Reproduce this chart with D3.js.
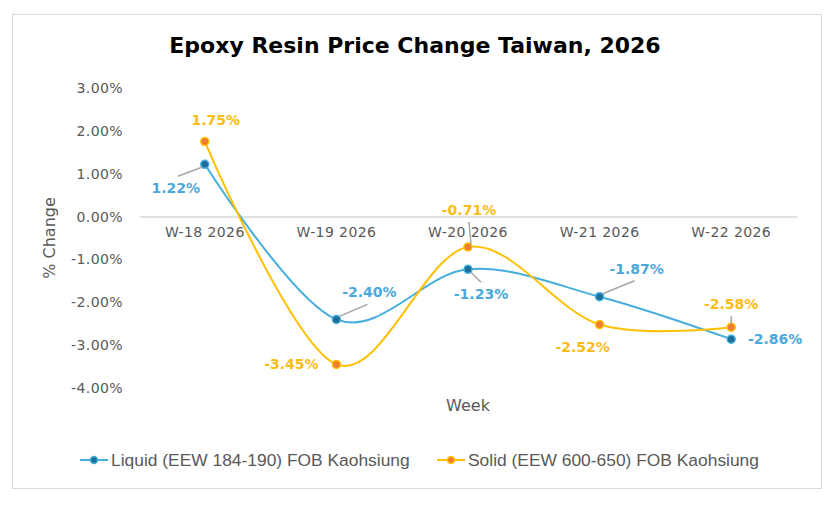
<!DOCTYPE html>
<html>
<head>
<meta charset="utf-8">
<script src="https://cdn.jsdelivr.net/npm/d3@7"></script>
<style>
  body { margin: 0; background: #fff; }
  text { font-family: "DejaVu Sans", Arial, sans-serif; }
</style>
</head>
<body>
<div id="viz"></div>
<script>
// chart data
var weeks = ["W-18 2026", "W-19 2026", "W-20 2026", "W-21 2026", "W-22 2026"];
var liquid = [1.22, -2.40, -1.23, -1.87, -2.86];
var solid = [1.75, -3.45, -0.71, -2.52, -2.58];
var yTicks = [3, 2, 1, 0, -1, -2, -3, -4];
var seriesNames = ["Liquid (EEW 184-190) FOB Kaohsiung", "Solid (EEW 600-650) FOB Kaohsiung"];

// label placement (dx, dy from point, leader line?)
var liquidLabelOff = [[-29, 24, true], [33, -27, true], [13, 25, true], [37, -28, true], [44, 0, false]];
var solidLabelOff = [[11, -21, false], [-45, 0, false], [1, -37, true], [-17, 23, false], [0, -23, true]];

var W = 832, H = 506;
var margin = {top: 88, left: 139, right: 35, bottom: 118};

// plain hyphen for negatives, like the source
var pct = function(d) { return d3.format(".2f")(d).replace("\u2212", "-") + "%"; };

var svg = d3.select("#viz").append("svg")
  .attr("width", W).attr("height", H);

// outer frame
svg.append("rect")
  .attr("x", 12.5).attr("y", 14.5).attr("width", 809).attr("height", 474)
  .attr("fill", "#fff").attr("stroke", "#d9d9d9");

var x = d3.scaleBand().domain(weeks).range([margin.left, W - margin.right]);
var y = d3.scaleLinear().domain([-4, 3]).range([388, 88]);

// title
svg.append("text")
  .attr("x", 415).attr("y", 53)
  .attr("text-anchor", "middle")
  .style("font-size", "22px").style("font-weight", "bold").attr("fill", "#000")
  .text("Epoxy Resin Price Change Taiwan, 2026");

// y axis labels
var yAxis = svg.append("g")
  .attr("transform", "translate(" + (margin.left - 16) + ",0)")
  .call(d3.axisLeft(y).tickValues(yTicks).tickSize(0).tickPadding(0).tickFormat(pct));
yAxis.select(".domain").remove();
yAxis.selectAll("text").style("font-size", "14px").style("letter-spacing", "0.4px").attr("fill", "#595959")
  .style("font-family", "'DejaVu Sans', Arial, sans-serif");

// zero line + category labels
var xAxis = svg.append("g")
  .attr("transform", "translate(0," + y(0) + ")")
  .call(d3.axisBottom(x).tickSize(0).tickPadding(10));
xAxis.select(".domain").attr("stroke", "#d9d9d9").attr("stroke-width", 1.5);
xAxis.selectAll("text").style("font-size", "14px").style("letter-spacing", "0.4px").attr("fill", "#595959")
  .style("font-family", "'DejaVu Sans', Arial, sans-serif");

// axis titles
svg.append("text")
  .attr("transform", "translate(55," + y(-0.5) + ") rotate(-90)")
  .attr("text-anchor", "middle")
  .style("font-size", "16px").attr("fill", "#595959")
  .text("% Change");
svg.append("text")
  .attr("x", x(weeks[2]) + x.bandwidth() / 2).attr("y", 411)
  .attr("text-anchor", "middle")
  .style("font-size", "16px").attr("fill", "#595959")
  .text("Week");

var cx = function(i) { return x(weeks[i]) + x.bandwidth() / 2; };

var line = d3.line()
  .x(function(d, i) { return cx(i); })
  .y(function(d) { return y(d); })
  .curve(d3.curveCatmullRom.alpha(0));

var series = [
  {values: liquid, line: "#45aedd", marker: "#1c6e99", label: "#4aa8dc", off: liquidLabelOff},
  {values: solid, line: "#ffc000", marker: "#ed7d31", label: "#fbbc16", off: solidLabelOff}
];

series.forEach(function(s) {
  svg.append("path").datum(s.values)
    .attr("fill", "none")
    .attr("stroke", s.line)
    .attr("stroke-width", 2)
    .attr("d", line);
});

series.forEach(function(s) {
  svg.selectAll(null).data(s.values).enter().append("circle")
    .attr("cx", function(d, i) { return cx(i); })
    .attr("cy", function(d) { return y(d); })
    .attr("r", 4)
    .attr("fill", s.marker)
    .attr("stroke", s.line)
    .attr("stroke-width", 1.5);
});

// leader lines and data labels
series.forEach(function(s) {
  s.values.forEach(function(v, i) {
    var px = cx(i), py = y(v), o = s.off[i];
    if (o[2]) {
      var lx = px + o[0], ly = py + o[1];
      var ex = lx, ey = ly + (o[1] > 0 ? -12 : 12);
      if (Math.abs(o[0]) > 20) ex = lx + (o[0] > 0 ? -2 : 2);
      svg.append("line")
        .attr("x1", px + (ex > px ? 3 : ex < px ? -3 : 0)).attr("y1", py + (ey > py ? 3 : -3))
        .attr("x2", ex).attr("y2", ey)
        .attr("stroke", "#a6a6a6").attr("stroke-width", 1.5);
    }
    svg.append("text")
      .attr("x", px + o[0]).attr("y", py + o[1])
      .attr("dy", "0.35em")
      .attr("text-anchor", "middle")
      .style("font-size", "14px").style("font-weight", "bold")
      .attr("fill", s.label)
      .text(pct(v));
  });
});

// legend
var legendX = [80, 437];
series.forEach(function(s, k) {
  var g = svg.append("g").attr("transform", "translate(" + legendX[k] + ",460)");
  g.append("line").attr("x1", 0).attr("x2", 28).attr("stroke", s.line).attr("stroke-width", 2);
  g.append("circle").attr("cx", 14).attr("r", 3.5).attr("fill", s.marker).attr("stroke", s.line).attr("stroke-width", 1.5);
  g.append("text").attr("x", 31).attr("dy", "0.35em")
    .style("font-size", "17.4px").attr("fill", "#595959")
    .style("font-family", "'Liberation Sans', Arial, sans-serif")
    .text(seriesNames[k]);
});
</script>
</body>
</html>
